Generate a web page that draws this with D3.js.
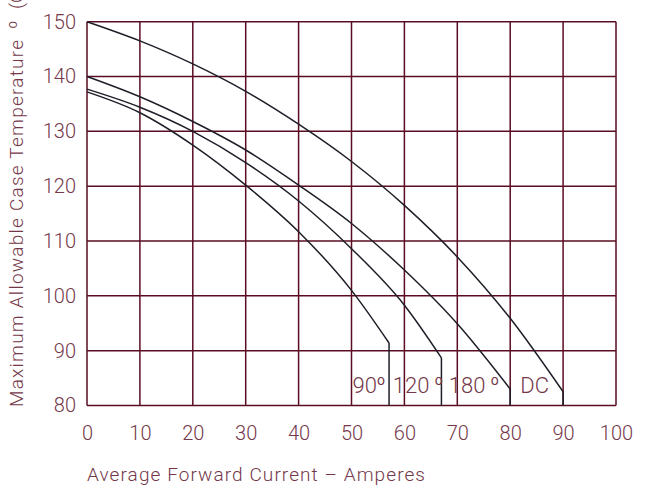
<!DOCTYPE html>
<html>
<head>
<meta charset="utf-8">
<script src="https://cdn.jsdelivr.net/npm/d3@7"></script>
<style>
  body { margin: 0; background: #fff; }
  text { font-family: Roboto, "DejaVu Sans", sans-serif; font-weight: 300; fill: #74384a; }
</style>
</head>
<body>
<svg width="649" height="485"></svg>
<script>
// tick values
var xTicks = [0, 10, 20, 30, 40, 50, 60, 70, 80, 90, 100];
var yTicks = [80, 90, 100, 110, 120, 130, 140, 150];

// curves (current in A, temperature in C)
var dcX   = [0, 10, 20, 30, 40, 50, 60, 70, 80, 90];
var dcY   = [150, 146.5, 142.3, 137.3, 131.3, 124.5, 116.5, 107.1, 95.9, 82.5];
var d180X = [0, 10, 20, 30, 40, 50, 60, 70, 80];
var d180Y = [140, 136.3, 131.8, 126.6, 120.2, 113.2, 104.7, 94.9, 83.0];
var d120X = [0, 10, 20, 30, 40, 50, 60, 67];
var d120Y = [137.7, 134.4, 130, 124.3, 117.3, 108.6, 98.3, 88.7];
var d90X  = [0, 10, 20, 30, 40, 50, 57.1];
var d90Y  = [137.2, 133.4, 127.5, 120.2, 111.7, 101.0, 91.4];

// label text, degree mark, start position (A)
var curveLabels = [{"text": "90", "deg": true, "x": 50.2},
                   {"text": "120 ", "deg": true, "x": 57.8},
                   {"text": "180 ", "deg": true, "x": 68.4},
                   {"text": "DC", "deg": false, "x": 81.9}];
var labelY = 82.3;

var svg = d3.select("svg"),
    x = d3.scaleLinear().domain([0, 100]).range([87, 616]),
    y = d3.scaleLinear().domain([80, 150]).range([405.5, 21.7]);

var gridColor = "#5a0c22";

// grid
svg.append("g").selectAll("line")
    .data(xTicks)
    .enter().append("line")
    .attr("x1", function(d) { return x(d); })
    .attr("x2", function(d) { return x(d); })
    .attr("y1", y(80)).attr("y2", y(150))
    .attr("stroke", gridColor).attr("stroke-width", 1.5);

svg.append("g").selectAll("line")
    .data(yTicks)
    .enter().append("line")
    .attr("y1", function(d) { return y(d); })
    .attr("y2", function(d) { return y(d); })
    .attr("x1", x(0)).attr("x2", x(100))
    .attr("stroke", gridColor).attr("stroke-width", 1.5);

// axes (labels only)
var xAxis = svg.append("g")
    .attr("transform", "translate(0," + y(80) + ")")
    .call(d3.axisBottom(x).tickValues(xTicks).tickSize(0).tickPadding(20));
var yAxis = svg.append("g")
    .attr("transform", "translate(" + x(0) + ",0)")
    .call(d3.axisLeft(y).tickValues(yTicks).tickSize(0).tickPadding(11));
[xAxis, yAxis].forEach(function(a) {
    a.select(".domain").remove();
    a.selectAll("text").attr("font-size", 20).attr("font-family", null).attr("fill", null);
});

// curves
var line = d3.line()
    .x(function(d) { return x(d[0]); })
    .y(function(d) { return y(d[1]); })
    .curve(d3.curveMonotoneX);

var series = [[dcX, dcY], [d180X, d180Y], [d120X, d120Y], [d90X, d90Y]];
series.forEach(function(s) {
    var pts = d3.zip(s[0], s[1]);
    svg.append("path")
        .attr("d", line(pts))
        .attr("fill", "none")
        .attr("stroke", "#1e1e28")
        .attr("stroke-width", 1.5);
    var last = pts[pts.length - 1];
    svg.append("line")
        .attr("x1", x(last[0])).attr("x2", x(last[0]))
        .attr("y1", y(last[1])).attr("y2", y(80))
        .attr("stroke", "#1e1e28")
        .attr("stroke-width", 1.5);
});

var labs = svg.append("g").selectAll("text")
    .data(curveLabels)
    .enter().append("text")
    .attr("x", function(d) { return x(d.x); })
    .attr("y", y(labelY))
    .attr("font-size", 22);
labs.append("tspan").text(function(d) { return d.text; });
labs.filter(function(d) { return d.deg; })
    .append("tspan")
    .attr("dy", -8)
    .attr("font-size", 14)
    .attr("font-weight", 400)
    .text("o");

// axis titles
svg.append("text")
    .attr("x", 87).attr("y", 481)
    .attr("font-size", 19)
    .attr("textLength", 338)
    .text("Average Forward Current \u2013 Amperes");

svg.append("text")
    .attr("transform", "translate(23,407) rotate(-90)")
    .attr("font-size", 19)
    .attr("textLength", 367)
    .text("Maximum Allowable Case Temperature");
svg.append("text")
    .attr("transform", "translate(23,29) rotate(-90)")
    .attr("font-size", 19)
    .text("º");
svg.append("text")
    .attr("transform", "translate(23,9) rotate(-90)")
    .attr("font-size", 19)
    .text("(C)");
</script>
</body>
</html>
